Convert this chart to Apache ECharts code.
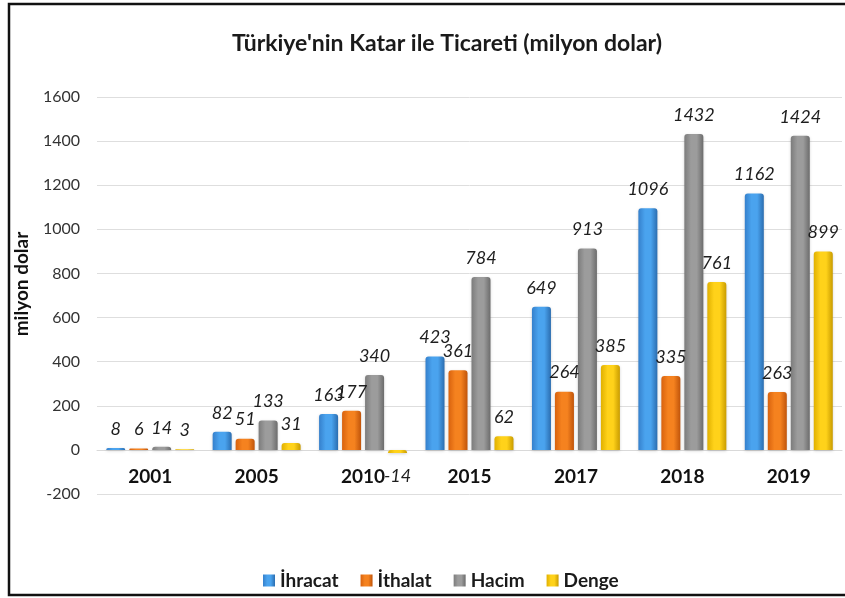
<!DOCTYPE html>
<html>
<head>
<meta charset="utf-8">
<script src="https://cdn.jsdelivr.net/npm/echarts@6/dist/echarts.min.js"></script>
<style>
html,body{margin:0;padding:0;background:#fff;}
#c{width:845px;height:598px;}
</style>
</head>
<body>
<div id="c"></div>
<script>
var categories = ['2001','2005','2010','2015','2017','2018','2019'];
var ihracat = [8, 82, 163, 423, 649, 1096, 1162];
var ithalat = [6, 51, 177, 361, 264, 335, 263];
var hacim = [14, 133, 340, 784, 913, 1432, 1424];
var denge = [3, 31, -14, 62, 385, 761, 899];
var seriesNames = ['İhracat','İthalat','Hacim','Denge'];
var yTicks = {min: -200, max: 1600, interval: 200};

var FONT = 'Lato, "Open Sans", sans-serif';

function grad(edge, mid, dark){
  return new echarts.graphic.LinearGradient(0,0,1,0,[
    {offset:0, color: edge},
    {offset:0.35, color: mid},
    {offset:0.65, color: mid},
    {offset:1, color: dark}
  ]);
}
var palettes = [
  ['#3580cc','#4aa3ee','#2b6db0','#3d8fdc'],
  ['#d8620e','#f5821f','#c0540a','#e8701a'],
  ['#7c7c7c','#9c9c9c','#6c6c6c','#8a8a8a'],
  ['#e0b000','#ffd21a','#c99c00','#f2c200']
];
var datasets = [ihracat, ithalat, hacim, denge];

var labelStyle = {
  show: true,
  position: 'top',
  distance: 10,
  fontFamily: FONT,
  fontStyle: 'italic',
  fontSize: 18,
  color: '#1e1e1e'
};

var series = datasets.map(function(arr, i){
  var p = palettes[i];
  return {
    name: seriesNames[i],
    type: 'bar',
    barWidth: 19,
    barGap: '21%',
    data: arr.map(function(v){
      var item = {value: v};
      if (v < 0) {
        item.label = {position: 'bottom', distance: 14};
      }
      return item;
    }),
    itemStyle: {
      color: grad(p[0], p[1], p[2]),
      borderRadius: [3,3,0,0],
      shadowColor: 'rgba(0,0,0,0.18)',
      shadowBlur: 3,
      shadowOffsetY: 1
    },
    label: labelStyle
  };
});

var chart = echarts.init(document.getElementById('c'), null, {renderer:'canvas'});
chart.setOption({
  animation: false,
  color: palettes.map(function(p){return p[3];}),
  title: {
    text: "Türkiye'nin Katar ile Ticareti (milyon dolar)",
    left: 442, top: 27, textAlign: 'center',
    textStyle: {fontFamily: FONT, fontWeight: 'bold', fontSize: 23, color: '#1a1a1a'}
  },
  legend: {
    data: seriesNames,
    left: 258, top: 566,
    icon: 'rect', itemWidth: 12, itemHeight: 12, itemGap: 22,
    textStyle: {fontFamily: FONT, fontWeight: 'bold', fontSize: 19, color: '#1a1a1a'}
  },
  grid: {left: 97, right: 3, top: 97, bottom: 104, containLabel: false},
  xAxis: {
    type: 'category',
    data: categories,
    position: 'bottom',
    offset: -44,
    axisLine: {onZero: false, lineStyle: {color: '#d9d9d9', width: 1}},
    axisTick: {show: false},
    axisLabel: {fontFamily: FONT, fontWeight: 'bold', fontSize: 19, color: '#111', margin: 17}
  },
  yAxis: {
    type: 'value',
    min: yTicks.min, max: yTicks.max, interval: yTicks.interval,
    axisLine: {show: false},
    axisTick: {show: false},
    splitLine: {lineStyle: {color: '#dedede', width: 1}},
    axisLabel: {fontFamily: FONT, fontSize: 16, color: '#333', margin: 17,
      formatter: function(v){ return String(v); }}
  },
  graphic: [
    {type: 'rect', shape: {x: 9, y: 4, width: 900, height: 591}, style: {fill: 'none', stroke: '#111', lineWidth: 2.5}, silent: true, z: 100},
    {type: 'text', x: 22, y: 284, rotation: Math.PI/2,
      style: {text: 'milyon dolar', textAlign: 'center', textVerticalAlign: 'middle', fontFamily: FONT, fontWeight: 'bold', fontSize: 19, fill: '#111'}}
  ],
  series: series
});
</script>
</body>
</html>
